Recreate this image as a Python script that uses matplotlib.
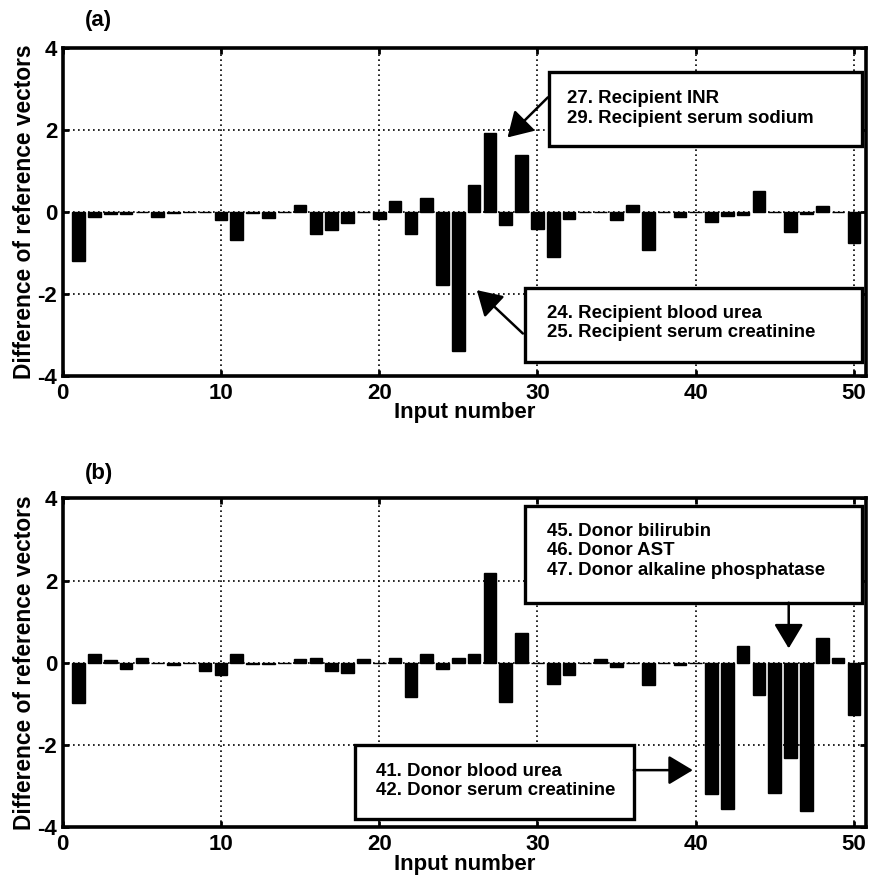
import matplotlib
matplotlib.use("Agg")
import matplotlib.pyplot as plt
from matplotlib.patches import Rectangle
import numpy as np

plt.rcParams['font.family'] = ['Liberation Sans', 'DejaVu Sans']
plt.rcParams['font.weight'] = 'bold'
plt.rcParams['axes.unicode_minus'] = False

inputs = list(range(1, 51))
diff_a = [-1.21, -0.12, -0.05, -0.05, -0.01, -0.12, -0.03, 0.0, -0.01, -0.20,
          -0.69, -0.02, -0.15, -0.01, 0.18, -0.53, -0.45, -0.26, -0.01, -0.18,
          0.26, -0.53, 0.34, -1.79, -3.40, 0.65, 1.92, -0.33, 1.39, -0.42,
          -1.10, -0.18, 0.0, -0.01, -0.20, 0.16, -0.94, 0.0, -0.12, -0.01,
          -0.24, -0.10, -0.07, 0.50, 0.0, -0.50, -0.05, 0.14, -0.01, -0.76]
diff_b = [-0.97, 0.22, 0.07, -0.14, 0.12, 0.0, -0.06, 0.0, -0.19, -0.29,
          0.22, -0.02, -0.02, 0.0, 0.08, 0.12, -0.21, -0.24, 0.08, -0.01,
          0.12, -0.82, 0.22, -0.16, 0.12, 0.22, 2.18, -0.95, 0.72, -0.01,
          -0.51, -0.29, 0.0, 0.08, -0.10, 0.0, -0.55, -0.01, -0.05, -0.01,
          -3.20, -3.55, 0.40, -0.79, -3.16, -2.31, -3.61, 0.61, 0.12, -1.26]
xticks = [0, 10, 20, 30, 40, 50]
yticks = [-4, -2, 0, 2, 4]
xlabel = "Input number"
ylabel = "Difference of reference vectors"

notes_a_top = "27. Recipient INR\n29. Recipient serum sodium"
notes_a_bot = "24. Recipient blood urea\n25. Recipient serum creatinine"
notes_b_top = "45. Donor bilirubin\n46. Donor AST\n47. Donor alkaline phosphatase"
notes_b_bot = "41. Donor blood urea\n42. Donor serum creatinine"

fig = plt.figure(figsize=(8.71, 8.85), dpi=100)
ax_a = fig.add_axes([0.072, 0.5755, 0.922, 0.370])
ax_b = fig.add_axes([0.072, 0.0652, 0.922, 0.3718])


def style(ax, vals):
    ax.bar(inputs, vals, width=0.8, color='black', edgecolor='black',
           linewidth=1, zorder=3)
    ax.set_xlim(0, 50.75)
    ax.set_ylim(-4, 4)
    ax.set_xticks(xticks)
    ax.set_yticks(yticks)
    ax.grid(True, color='black', linestyle=(0, (1, 2)), linewidth=1.2, zorder=1)
    ax.tick_params(direction='in', length=4, width=2, top=True, right=True,
                   labelsize=16)
    ax.tick_params(axis='x', pad=5)
    ax.tick_params(axis='y', pad=4)
    for lab in ax.get_xticklabels() + ax.get_yticklabels():
        lab.set_fontweight('bold')
    for s in ax.spines.values():
        s.set_linewidth(2.6)
        s.set_zorder(6)
    ax.set_xlabel(xlabel, fontsize=16, fontweight='bold', labelpad=-1)
    ax.set_ylabel(ylabel, fontsize=16.4, fontweight='bold', labelpad=1)


def box(ax, x0, x1, y0, y1, tx, ty, txt):
    ax.add_patch(Rectangle((x0, y0), x1 - x0, y1 - y0, facecolor='white',
                           edgecolor='black', linewidth=2.4, zorder=7,
                           clip_on=False))
    ax.text(tx, ty, txt, fontsize=13.4, fontweight='bold', va='center',
            ha='left', linespacing=1.18, zorder=8)


def arrow(ax, tail, tip):
    ax.annotate('', xy=tip, xytext=tail,
                arrowprops=dict(arrowstyle='-|>,head_length=0.75,head_width=0.45',
                                mutation_scale=20,
                                color='black', lw=1.8, shrinkA=0, shrinkB=0),
                zorder=8)


style(ax_a, diff_a)
style(ax_b, diff_b)

box(ax_a, 30.72, 50.49, 1.61, 3.42, 31.9, 2.53, notes_a_top)
arrow(ax_a, (30.66, 2.80), (28.11, 1.82))
box(ax_a, 29.2, 50.49, -3.67, -1.865, 30.6, -2.71, notes_a_bot)
arrow(ax_a, (29.08, -2.97), (26.17, -1.91))

box(ax_b, 29.2, 50.49, 1.46, 3.82, 30.6, 2.72, notes_b_top)
arrow(ax_b, (45.88, 1.46), (45.88, 0.35))
box(ax_b, 18.46, 36.09, -3.8, -2.0, 19.8, -2.88, notes_b_bot)
arrow(ax_b, (36.09, -2.61), (39.82, -2.61))

fig.text(0.0976, 0.977, "(a)", fontsize=16, fontweight='bold', va='center')
fig.text(0.0976, 0.4655, "(b)", fontsize=16, fontweight='bold', va='center')

fig.savefig("out.png", dpi=100)
